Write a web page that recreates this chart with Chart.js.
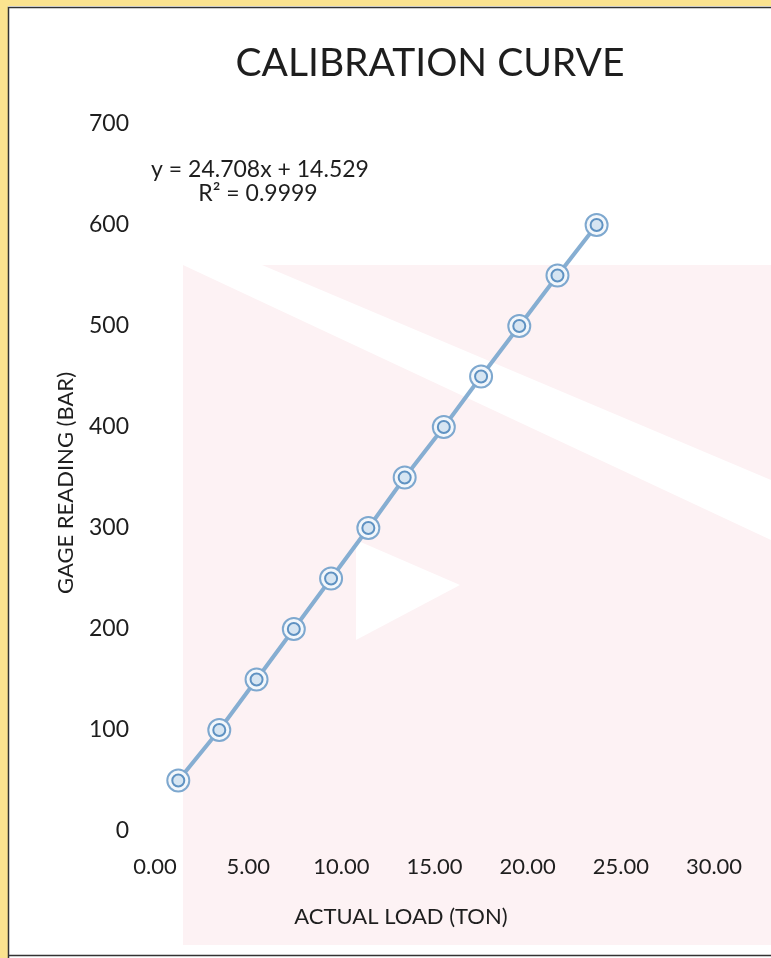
<!DOCTYPE html>
<html lang="en">
<head>
    <meta charset="UTF-8">
    <title>Calibration Curve</title>
    <style>
        body {
            margin: 0;
            padding: 0;
            background: #ffffff;
        }
        .wrap {
            width: 771px;
            height: 958px;
        }
    </style>
</head>
<body>
    <div class="wrap">
        <canvas id="calChart" width="771" height="958"></canvas>
    </div>

    <script src="https://cdn.jsdelivr.net/npm/chart.js"></script>
    <script>
        // values
        const actualLoad = [1.25, 3.45, 5.45, 7.45, 9.45, 11.45, 13.4, 15.5, 17.5, 19.55, 21.6, 23.7];
        const gageReading = [50, 100, 150, 200, 250, 300, 350, 400, 450, 500, 550, 600];
        const xTicks = [0, 5, 10, 15, 20, 25, 30];
        const yTicks = [0, 100, 200, 300, 400, 500, 600, 700];
        const equationLines = ['y = 24.708x + 14.529', 'R\u00b2 = 0.9999'];
        const xTitle = 'ACTUAL LOAD (TON)';
        const yTitle = 'GAGE READING (BAR)';

        const FONT = 'Lato, "Open Sans", sans-serif';
        const TEXT = '#1e1e1e';

        const points = actualLoad.map((x, i) => ({ x: x, y: gageReading[i] }));

        // frame, faint watermark, title, axis titles and equation
        const decor = {
            id: 'decor',
            beforeDraw(chart) {
                const ctx = chart.ctx;
                ctx.save();
                ctx.fillStyle = '#ffffff';
                ctx.fillRect(0, 0, 771, 958);
                ctx.fillStyle = '#fdf2f4';
                ctx.fillRect(183, 265, 588, 680);
                ctx.fillStyle = '#ffffff';
                ctx.beginPath();
                ctx.moveTo(183, 265);
                ctx.lineTo(262, 265);
                ctx.lineTo(771, 480);
                ctx.lineTo(771, 540);
                ctx.closePath();
                ctx.fill();
                ctx.beginPath();
                ctx.moveTo(356, 540);
                ctx.lineTo(460, 585);
                ctx.lineTo(356, 640);
                ctx.closePath();
                ctx.fill();
                // yellow outer frame
                ctx.fillStyle = '#fbe38f';
                ctx.fillRect(0, 0, 771, 6);
                ctx.fillRect(0, 0, 8, 958);
                ctx.strokeStyle = '#333333';
                ctx.lineWidth = 1.5;
                ctx.beginPath();
                ctx.moveTo(8.5, 958);
                ctx.lineTo(8.5, 7.5);
                ctx.lineTo(771, 7.5);
                ctx.moveTo(8, 955.5);
                ctx.lineTo(771, 955.5);
                ctx.stroke();
                ctx.restore();
            },
            afterDraw(chart) {
                const ctx = chart.ctx;
                ctx.save();
                ctx.fillStyle = TEXT;
                ctx.textAlign = 'center';
                ctx.textBaseline = 'middle';
                ctx.font = '39px ' + FONT;
                ctx.fillText('CALIBRATION CURVE', 430, 63);
                ctx.font = '23px ' + FONT;
                ctx.fillText(equationLines[0], 260, 170);
                ctx.fillText(equationLines[1], 258, 194);
                ctx.font = '22px ' + FONT;
                ctx.fillText(xTitle, 401, 917);
                ctx.translate(66, 483);
                ctx.rotate(-Math.PI / 2);
                ctx.fillText(yTitle, 0, 0);
                ctx.restore();
            }
        };

        new Chart(document.getElementById('calChart'), {
            type: 'scatter',
            data: {
                datasets: [{
                    label: 'Gage reading',
                    data: points,
                    order: 1,
                    showLine: true,
                    borderColor: '#86aed2',
                    borderWidth: 4,
                    pointStyle: 'circle',
                    pointRadius: 11,
                    pointBorderWidth: 2,
                    pointBorderColor: '#7ea8cf',
                    pointBackgroundColor: '#f3f7fb'
                }, {
                    label: 'inner ring',
                    data: points,
                    order: 0,
                    showLine: false,
                    pointRadius: 6,
                    pointBorderWidth: 2,
                    pointBorderColor: '#5f92c2',
                    pointBackgroundColor: '#d6e5f2'
                }]
            },
            options: {
                responsive: false,
                animation: false,
                layout: { padding: { top: 124, right: 57, bottom: 0, left: 0 } },
                plugins: {
                    legend: { display: false },
                    tooltip: { enabled: false }
                },
                scales: {
                    x: {
                        type: 'linear',
                        min: 0,
                        max: 30,
                        afterBuildTicks: s => { s.ticks = xTicks.map(v => ({ value: v })); },
                        afterFit: s => { s.height = 127; },
                        grid: { display: false, drawTicks: false },
                        border: { display: false },
                        ticks: {
                            padding: 23,
                            color: TEXT,
                            font: { family: FONT, size: 22 },
                            callback: v => v.toFixed(2)
                        }
                    },
                    y: {
                        type: 'linear',
                        min: 0,
                        max: 700,
                        afterBuildTicks: s => { s.ticks = yTicks.map(v => ({ value: v })); },
                        afterFit: s => { s.width = 155; },
                        grid: { display: false, drawTicks: false },
                        border: { display: false },
                        ticks: {
                            padding: 26,
                            color: TEXT,
                            font: { family: FONT, size: 23 }
                        }
                    }
                }
            },
            plugins: [decor]
        });
    </script>
</body>
</html>
